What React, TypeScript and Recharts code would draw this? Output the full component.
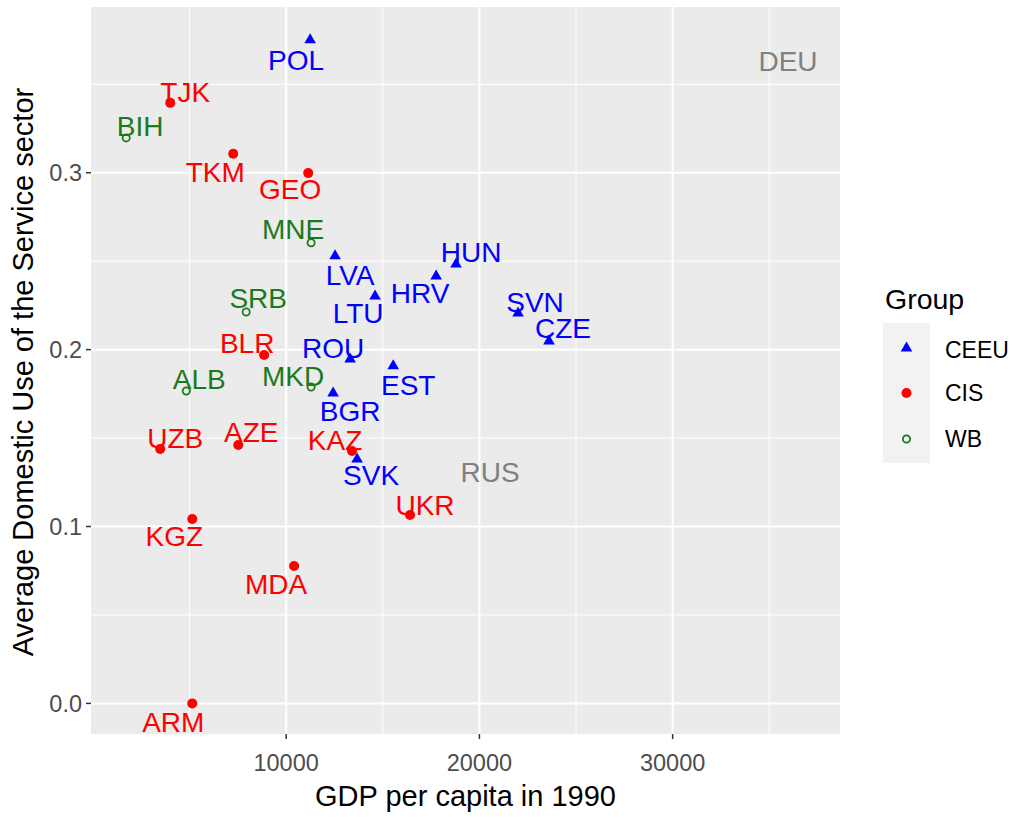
import { ScatterChart, Scatter, XAxis, YAxis, CartesianGrid } from 'recharts';

// CEEU group
const ceeuCodes = ['POL', 'LVA', 'HUN', 'HRV', 'LTU', 'SVN', 'CZE', 'ROU', 'EST', 'BGR', 'SVK'];
const ceeuGdp = [11240, 12530, 18790, 17760, 14600, 22000, 23600, 13310, 15540, 12430, 13670];
const ceeuService = [0.3757, 0.2536, 0.249, 0.2422, 0.2309, 0.2213, 0.2055, 0.1953, 0.1914, 0.1761, 0.1388];

// CIS group
const cisCodes = ['TJK', 'TKM', 'GEO', 'BLR', 'UZB', 'AZE', 'KAZ', 'KGZ', 'MDA', 'ARM', 'UKR'];
const cisGdp = [4000, 7260, 11140, 8860, 3480, 7520, 13410, 5140, 10410, 5140, 16410];
const cisService = [0.3395, 0.3107, 0.2998, 0.197, 0.1438, 0.1461, 0.1427, 0.1042, 0.0777, 0.0, 0.1065];

// WB group
const wbCodes = ['BIH', 'MNE', 'SRB', 'ALB', 'MKD'];
const wbGdp = [1720, 11290, 7930, 4830, 11290];
const wbService = [0.3197, 0.2604, 0.2213, 0.1766, 0.1789];

// no group (label only)
const naCodes = ['RUS', 'DEU'];
const naGdp = [20550, 35970];
const naService = [0.1308, 0.3633];

const xTicks = [10000, 20000, 30000];
const xMinor = [5000, 15000, 25000, 35000];
const yTicks = [0, 0.1, 0.2, 0.3];
const yMinor = [0.05, 0.15, 0.25, 0.35];

// label nudges in px (where the text sits relative to its point)
const labelOffset: Record<string, [number, number]> = {
  POL: [-14, 21], LVA: [15, 20], HUN: [15, -11], HRV: [-16, 18], LTU: [-17, 18], SVN: [17, -10],
  CZE: [14, -12], ROU: [-17, -10], EST: [15, 20], BGR: [17, 19], SVK: [14, 17],
  TJK: [15, -11], TKM: [-18, 18], GEO: [-18, 16], BLR: [-17, -12], UZB: [15, -11], AZE: [13, -13],
  KAZ: [-17, -11], KGZ: [-18, 17], MDA: [-18, 18], ARM: [-19, 19], UKR: [15, -10],
  BIH: [14, -12], MNE: [-18, -14], SRB: [12, -14], ALB: [13, -12], MKD: [-18, -11],
  RUS: [0, 0], DEU: [0, 0],
};

const BLUE = '#0000FF';
const RED = '#FF0000';
const GREEN = '#1B7A1B';
const GREY = '#808080';
const FONT = '"Liberation Sans", Arial, sans-serif';

const build = (codes: string[], gdp: number[], svc: number[]) =>
  codes.map((code, i) => ({ code, gdp: gdp[i], service: svc[i] }));

const ceeu = build(ceeuCodes, ceeuGdp, ceeuService);
const cis = build(cisCodes, cisGdp, cisService);
const wb = build(wbCodes, wbGdp, wbService);
const na = build(naCodes, naGdp, naService);

const Triangle = ({ cx, cy, color }: any) => (
  <polygon points={`${cx},${cy - 5.5} ${cx + 5.8},${cy + 4.5} ${cx - 5.8},${cy + 4.5}`} fill={color} />
);

const textShape = (color: string) => (p: any) => {
  const [dx, dy] = labelOffset[p.payload.code] || [0, 0];
  return (
    <text x={p.cx + dx} y={p.cy + dy} dy="0.36em" textAnchor="middle" fill={color}
      fontSize={28} fontFamily={FONT}>
      {p.payload.code}
    </text>
  );
};

export default function App() {
  return (
    <div style={{ position: 'absolute', left: 0, top: 0, width: 1019, height: 818, background: '#fff' }}>
      <ScatterChart width={1019} height={818} margin={{ top: 7, right: 179, bottom: 0, left: 0 }}>
        <CartesianGrid fill="#EBEBEB" stroke="#FFFFFF" strokeWidth={1} strokeDasharray=""
          horizontalValues={yMinor} verticalValues={xMinor} />
        <CartesianGrid stroke="#FFFFFF" strokeWidth={2} strokeDasharray=""
          horizontalValues={yTicks} verticalValues={xTicks} />
        <XAxis type="number" dataKey="gdp" domain={[-100, 38660]} ticks={xTicks} allowDataOverflow
          height={84} axisLine={false} tickSize={5} tickMargin={15}
          tickLine={{ stroke: '#333333', strokeWidth: 1.5 }}
          tick={{ fill: '#4D4D4D', fontSize: 23.5, fontFamily: FONT }} />
        <YAxis type="number" dataKey="service" domain={[-0.0173, 0.3937]} ticks={yTicks} allowDataOverflow
          width={91} axisLine={false} tickSize={5} tickMargin={4}
          tickLine={{ stroke: '#333333', strokeWidth: 1.5 }}
          tickFormatter={(v: number) => v.toFixed(1)}
          tick={{ fill: '#4D4D4D', fontSize: 23.5, fontFamily: FONT }} />
        {/* points */}
        <Scatter data={ceeu} isAnimationActive={false}
          shape={(p: any) => <Triangle cx={p.cx} cy={p.cy} color={BLUE} />} />
        <Scatter data={cis} isAnimationActive={false}
          shape={(p: any) => <circle cx={p.cx} cy={p.cy} r={5} fill={RED} />} />
        <Scatter data={wb} isAnimationActive={false}
          shape={(p: any) => <circle cx={p.cx} cy={p.cy} r={3.6} fill="none" stroke={GREEN} strokeWidth={1.8} />} />
        {/* labels */}
        <Scatter data={ceeu} isAnimationActive={false} shape={textShape(BLUE)} />
        <Scatter data={cis} isAnimationActive={false} shape={textShape(RED)} />
        <Scatter data={wb} isAnimationActive={false} shape={textShape(GREEN)} />
        <Scatter data={na} isAnimationActive={false} shape={textShape(GREY)} />
      </ScatterChart>

      <svg width={1019} height={818} style={{ position: 'absolute', left: 0, top: 0, pointerEvents: 'none' }}>
        <text x={465.5} y={806} textAnchor="middle" fontSize={29} fontFamily={FONT} fill="#000">
          GDP per capita in 1990
        </text>
        <text transform="translate(33,372) rotate(-90)" textAnchor="middle" fontSize={29} fontFamily={FONT} fill="#000">
          Average Domestic Use of the Service sector
        </text>
        {/* legend */}
        <text x={885} y={309} fontSize={28.5} fontFamily={FONT} fill="#000">Group</text>
        <rect x={883} y={323} width={47} height={140} fill="#F2F2F2" />
        <Triangle cx={906.5} cy={347} color={BLUE} />
        <circle cx={906.5} cy={393} r={5} fill={RED} />
        <circle cx={906.5} cy={439} r={3.6} fill="none" stroke={GREEN} strokeWidth={1.8} />
        <text x={945} y={350} dy="0.36em" fontSize={23} fontFamily={FONT} fill="#000">CEEU</text>
        <text x={945} y={393} dy="0.36em" fontSize={23} fontFamily={FONT} fill="#000">CIS</text>
        <text x={945} y={439} dy="0.36em" fontSize={23} fontFamily={FONT} fill="#000">WB</text>
      </svg>
    </div>
  );
}
